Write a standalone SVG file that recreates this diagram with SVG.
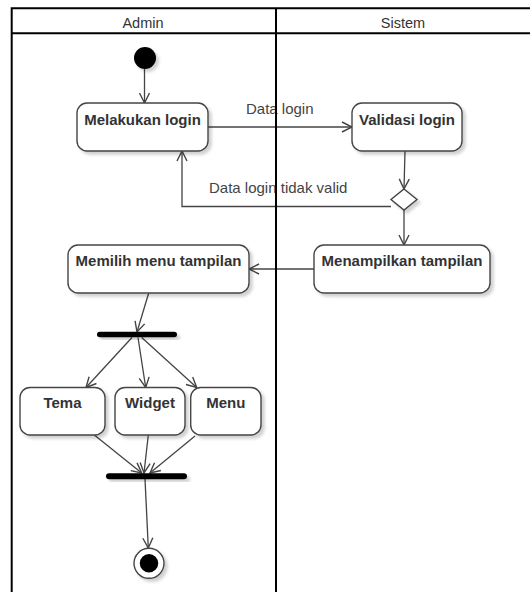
<svg xmlns="http://www.w3.org/2000/svg" width="530" height="592" viewBox="0 0 530 592">
  <defs>
    <filter id="shadow" x="-20%" y="-20%" width="150%" height="160%">
      <feDropShadow dx="3" dy="3" stdDeviation="1.6" flood-color="#000" flood-opacity="0.18"/>
    </filter>
    <marker id="open-arrow" markerUnits="userSpaceOnUse" markerWidth="12" markerHeight="12" refX="11" refY="6" orient="auto">
      <path d="M1,1 L11,6 L1,11" fill="none" stroke="#444" stroke-width="1.4"/>
    </marker>
    <style>
      .action { fill: #fff; stroke: #444; stroke-width: 1.4; filter: url(#shadow); }
      .label { font-family: "Liberation Sans", Arial, sans-serif; font-size: 15px; font-weight: bold; fill: #333; text-anchor: middle; }
      .edge-label { font-family: "Liberation Sans", Arial, sans-serif; font-size: 15px; fill: #444; }
      .lane-title { font-family: "Liberation Sans", Arial, sans-serif; font-size: 14.5px; fill: #333; text-anchor: middle; }
      .flow { fill: none; stroke: #444; stroke-width: 1.3; marker-end: url(#open-arrow); }
      .bar { fill: #000; filter: url(#shadow); }
    </style>
  </defs>

  <rect width="530" height="592" fill="#fff"/>

  <!-- connectors -->
  <g id="connectors">
    <path class="flow" d="M144.5,69 L144.5,103"/>
    <path class="flow" d="M208,127 L352,127"/>
    <path class="flow" d="M405,151 L404,189"/>
    <path class="flow" d="M391,206.5 L182,206.5 L182,151"/>
    <path class="flow" d="M404,210 L404,245"/>
    <path class="flow" d="M314,269 L249,269"/>
    <path class="flow" d="M148.7,293 L137,332"/>
    <path class="flow" d="M132,337.5 L86,387.5"/>
    <path class="flow" d="M138,337.5 L145.7,387.5"/>
    <path class="flow" d="M141.7,337.5 L196.7,387.5"/>
    <path class="flow" d="M94.3,435 L141.7,473"/>
    <path class="flow" d="M148.3,435 L144,473"/>
    <path class="flow" d="M195,436 L150,473"/>
    <path class="flow" d="M145,479 L148.3,548"/>
    <text class="edge-label" x="246" y="113.5">Data login</text>
    <text class="edge-label" x="209" y="193">Data login tidak valid</text>
  </g>

  <!-- nodes -->
  <g id="start">
    <circle cx="145" cy="58" r="11" fill="#000" filter="url(#shadow)"/>
  </g>
  <g id="melakukan-login">
    <rect class="action" x="77" y="103" width="131" height="48" rx="10"/>
    <text class="label" x="142.5" y="124.5">Melakukan login</text>
  </g>
  <g id="validasi-login">
    <rect class="action" x="352" y="103" width="110" height="48" rx="10"/>
    <text class="label" x="407" y="124.5">Validasi login</text>
  </g>
  <g id="decision">
    <path class="action" d="M404,189 L417,199.5 L404,210 L391,199.5 Z"/>
  </g>
  <g id="menampilkan-tampilan">
    <rect class="action" x="314" y="245" width="176" height="48" rx="10"/>
    <text class="label" x="402" y="266">Menampilkan tampilan</text>
  </g>
  <g id="memilih-menu-tampilan">
    <rect class="action" x="68" y="245" width="181" height="48" rx="10"/>
    <text class="label" x="158.5" y="266">Memilih menu tampilan</text>
  </g>
  <g id="fork">
    <rect class="bar" x="97" y="331.8" width="80" height="5.5" rx="2.75"/>
  </g>
  <g id="tema">
    <rect class="action" x="20" y="387.5" width="85" height="47.5" rx="10"/>
    <text class="label" x="62.5" y="407.5">Tema</text>
  </g>
  <g id="widget">
    <rect class="action" x="115" y="387.5" width="70" height="47.5" rx="10"/>
    <text class="label" x="150" y="407.5">Widget</text>
  </g>
  <g id="menu">
    <rect class="action" x="190.7" y="387.5" width="70.3" height="47.5" rx="10"/>
    <text class="label" x="225.8" y="407.5">Menu</text>
  </g>
  <g id="join">
    <rect class="bar" x="106" y="473.3" width="81" height="6" rx="3"/>
  </g>
  <g id="end">
    <circle cx="149" cy="563.3" r="15" fill="#fff" stroke="#444" stroke-width="1.4" filter="url(#shadow)"/>
    <circle cx="149" cy="563.3" r="9.2" fill="#000"/>
  </g>

  <!-- swimlanes -->
  <g id="swimlanes" fill="none" stroke="#000" stroke-width="2">
    <path d="M11.7,592 V8.3 H530"/>
    <path d="M11.7,33.3 H530"/>
    <path d="M276,8.3 V592"/>
  </g>
  <text class="lane-title" x="143" y="27.5">Admin</text>
  <text class="lane-title" x="403" y="27.5">Sistem</text>
</svg>
